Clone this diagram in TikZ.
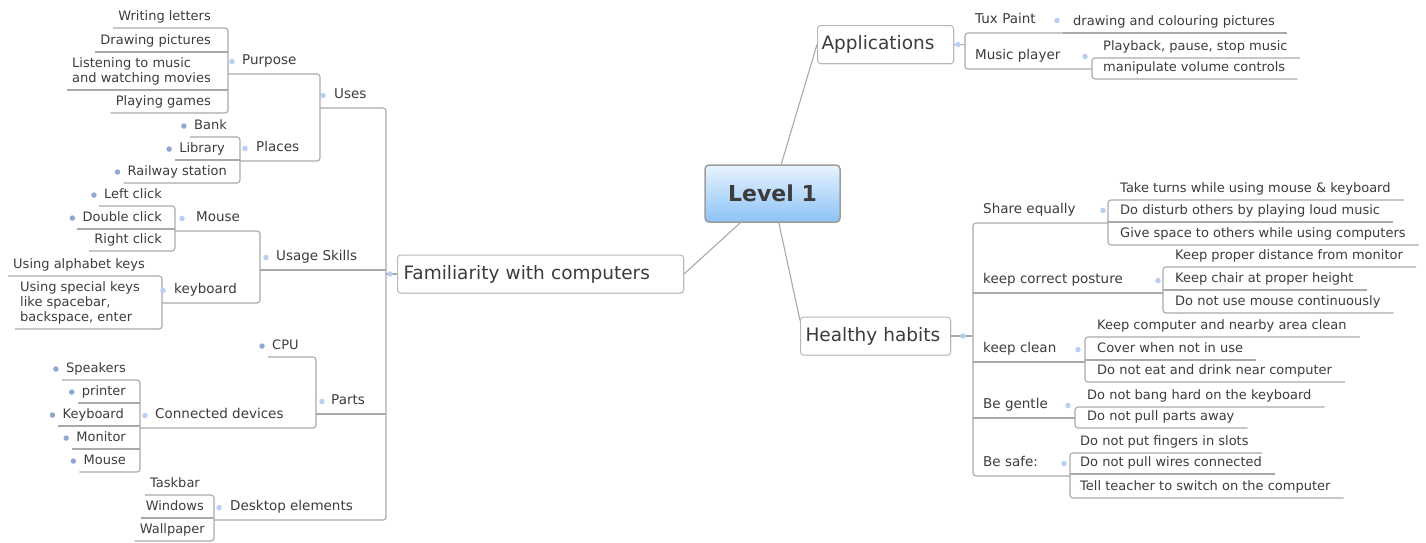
\documentclass[tikz,border=0pt]{standalone}
\usepackage{fontspec}
\setmainfont{DejaVu Sans}
\usetikzlibrary{shadows}

\definecolor{txt}{HTML}{3C3C3C}
\definecolor{linkc}{HTML}{A9A9A9}
\definecolor{boxc}{HTML}{B8B8B8}
\definecolor{dotc}{HTML}{BACFEF}
\definecolor{dotd}{HTML}{8FA8D2}
\definecolor{rtop}{HTML}{E8F3FE}
\definecolor{rbot}{HTML}{8CC3F6}
\definecolor{rbrd}{HTML}{9C9C9C}

\tikzset{
  link/.style={draw=linkc, line width=1.1pt, rounded corners=3pt},
  leaf/.style={font=\fontsize{13}{15}\selectfont, text=txt, inner xsep=0pt, inner ysep=4.5pt, text height=9.5pt, text depth=3pt},
  leafml/.style={font=\fontsize{13}{15}\selectfont, text=txt, inner xsep=0pt, inner ysep=4.5pt, align=left},
  sub/.style={font=\fontsize{13.5}{16}\selectfont, text=txt, inner xsep=0pt, inner ysep=5.5pt, text height=10pt, text depth=3.5pt},
  branch/.style={draw=boxc, fill=white, line width=1pt, rounded corners=3pt, font=\fontsize{18.5}{22}\selectfont, text=txt, align=left, inner ysep=9.25pt, text height=15pt, text depth=4.5pt, drop shadow={opacity=0.15, shadow xshift=1pt, shadow yshift=-1pt}},
  root/.style={draw=rbrd, line width=1.5pt, rounded corners=4pt, top color=rtop, bottom color=rbot, minimum width=135pt, minimum height=57pt, font=\bfseries\fontsize{22}{26}\selectfont, text=txt, drop shadow={opacity=0.2, shadow xshift=1pt, shadow yshift=-1pt}},
  knob/.style={circle, fill=dotc, inner sep=0pt, minimum size=5.5pt},
  knobd/.style={knob, fill=dotd},
}

\begin{document}
\begin{tikzpicture}[x=1pt, y=-1pt]
  \useasboundingbox (0,0) rectangle (1426,542);

  % Spine positions
  \coordinate (sF) at (386,0);
  \coordinate (sU) at (320,0);
  \coordinate (sPu) at (228,0);
  \coordinate (sPl) at (240,0);
  \coordinate (sUS) at (260,0);
  \coordinate (sM) at (175,0);
  \coordinate (sK) at (162,0);
  \coordinate (sPa) at (316,0);
  \coordinate (sCD) at (140,0);
  \coordinate (sD) at (214,0);
  \coordinate (sA) at (965,0);
  \coordinate (sT) at (1063,0);
  \coordinate (sMP) at (1092,0);
  \coordinate (sH) at (973,0);
  \coordinate (sSE) at (1108,0);
  \coordinate (sKP) at (1163,0);
  \coordinate (sKC) at (1085,0);
  \coordinate (sBG) at (1075,0);
  \coordinate (sBS) at (1070,0);

  % Central topic and main branches
  \node[root] (L1) at (772.5,193.5) {Level 1};
  \node[branch, anchor=west, inner xsep=6pt, text width=274pt] (fam) at (397,274) {Familiarity with computers};
  \node[branch, anchor=west, inner xsep=4pt, text width=128pt] (app) at (817,44.5) {Applications};
  \node[branch, anchor=west, inner xsep=5pt, text width=140pt] (hh) at (800,336) {Healthy habits};

  % Uses
  \node[leaf, anchor=south east] (wl) at (211,28) {Writing letters};
  \node[leaf, anchor=south east] (dp) at (211,52) {Drawing pictures};
  \node[leafml, anchor=south east] (lm) at (211,90) {Listening to music\\and watching movies};
  \node[leaf, anchor=south east] (pg) at (211,113) {Playing games};
  \node[sub, anchor=south west] (pur) at (242,74) {Purpose};
  \node[leaf, anchor=south east] (bank) at (227,137) {Bank};
  \node[leaf, anchor=south east] (lib) at (225,160) {Library};
  \node[leaf, anchor=south east] (rail) at (227,183) {Railway station};
  \node[sub, anchor=south west] (pla) at (256,161) {Places};
  \node[sub, anchor=south west] (uses) at (334,108) {Uses};

  % Usage Skills
  \node[leaf, anchor=south east] (lc) at (162,206) {Left click};
  \node[leaf, anchor=south east] (dc) at (162,229) {Double click};
  \node[leaf, anchor=south east] (rc) at (162,251) {Right click};
  \node[sub, anchor=south west] (mou) at (196,231) {Mouse};
  \node[leaf, anchor=south east] (ak) at (145,276) {Using alphabet keys};
  \node[leafml, anchor=south west] (sk) at (20,329) {Using special keys\\like spacebar,\\backspace, enter};
  \node[sub, anchor=south west] (kb) at (174,303) {keyboard};
  \node[sub, anchor=south west] (us) at (276,270) {Usage Skills};

  % Parts
  \node[leaf, anchor=south west] (cpu) at (272,357) {CPU};
  \node[leaf, anchor=south east] (spk) at (126,380) {Speakers};
  \node[leaf, anchor=south east] (pri) at (126,403) {printer};
  \node[leaf, anchor=south east] (kbd) at (124,426) {Keyboard};
  \node[leaf, anchor=south east] (mon) at (126,449) {Monitor};
  \node[leaf, anchor=south east] (mse) at (126,472) {Mouse};
  \node[sub, anchor=south west] (cd) at (155,428) {Connected devices};
  \node[sub, anchor=south west] (parts) at (331,414) {Parts};

  % Desktop elements
  \node[leaf, anchor=south east] (tb) at (200,495) {Taskbar};
  \node[leaf, anchor=south east] (win) at (204,518) {Windows};
  \node[leaf, anchor=south east] (wp) at (205,541) {Wallpaper};
  \node[sub, anchor=south west] (de) at (230,520) {Desktop elements};

  % Applications
  \node[sub, anchor=south west] (tux) at (975,33) {Tux Paint};
  \node[leaf, anchor=south west] (dcp) at (1073,33) {drawing and colouring pictures};
  \node[sub, anchor=south west] (mp) at (975,69) {Music player};
  \node[leaf, anchor=south west] (pb) at (1103,58) {Playback, pause, stop music};
  \node[leaf, anchor=south west] (mv) at (1103,79) {manipulate volume controls};

  % Healthy habits
  \node[sub, anchor=south west] (se) at (983,223) {Share equally};
  \node[leaf, anchor=south west] (tt) at (1120,200) {Take turns while using mouse \& keyboard};
  \node[leaf, anchor=south west] (dd) at (1120,222) {Do disturb others by playing loud music};
  \node[leaf, anchor=south west] (gs) at (1120,245) {Give space to others while using computers};
  \node[sub, anchor=south west] (kp) at (983,293) {keep correct posture};
  \node[leaf, anchor=south west] (kd) at (1175,267) {Keep proper distance from monitor};
  \node[leaf, anchor=south west] (kc) at (1175,290) {Keep chair at proper height};
  \node[leaf, anchor=south west] (nm) at (1175,313) {Do not use mouse continuously};
  \node[sub, anchor=south west] (kcl) at (983,362) {keep clean};
  \node[leaf, anchor=south west] (kca) at (1097,337) {Keep computer and nearby area clean};
  \node[leaf, anchor=south west] (cov) at (1097,360) {Cover when not in use};
  \node[leaf, anchor=south west] (ned) at (1097,382) {Do not eat and drink near computer};
  \node[sub, anchor=south west] (bg) at (983,418) {Be gentle};
  \node[leaf, anchor=south west] (nb) at (1087,407) {Do not bang hard on the keyboard};
  \node[leaf, anchor=south west] (np) at (1087,428) {Do not pull parts away};
  \node[sub, anchor=south west] (bs) at (983,476) {Be safe:};
  \node[leaf, anchor=south west] (nf) at (1080,453) {Do not put fingers in slots};
  \node[leaf, anchor=south west] (nw) at (1080,474) {Do not pull wires connected};
  \node[leaf, anchor=south west] (tlt) at (1080,498) {Tell teacher to switch on the computer};

  % Links from the central topic
  \draw[link] (L1) -- (fam.east);
  \draw[link] (L1) -- (app.west);
  \draw[link] (L1) -- ([yshift=-4pt]hh.north west);

  % Familiarity with computers
  \draw[link] (sF |- fam.west) -- (fam.west);
  \draw[link] (sU |- uses.south) -- (sF |- uses.south) -- (sF |- de.south) -- (sD |- de.south);
  \draw[link] (sUS |- us.south) -- (sF |- us.south);
  \draw[link] (sPa |- parts.south) -- (sF |- parts.south);
  \draw[link] (sPu |- pur.south) -- (sU |- pur.south) -- (sU |- pla.south) -- (sPl |- pla.south);
  \draw[link] ([xshift=-5pt]wl.south west) -- (sPu |- wl.south) -- (sPu |- pg.south) -- ([xshift=-5pt]pg.south west);
  \draw[link] ([xshift=-5pt]dp.south west) -- (sPu |- dp.south);
  \draw[link] ([xshift=-5pt]lm.south west) -- (sPu |- lm.south);
  \draw[link] ([xshift=-4pt]bank.south west) -- (sPl |- bank.south) -- (sPl |- rail.south) -- ([xshift=-4pt]rail.south west);
  \draw[link] ([xshift=-4pt]lib.south west) -- (sPl |- lib.south);
  \draw[link] (sM |- mou.south) -- (sUS |- mou.south) -- (sUS |- kb.south) -- (sK |- kb.south);
  \draw[link] ([xshift=-5pt]lc.south west) -- (sM |- lc.south) -- (sM |- rc.south) -- ([xshift=-5pt]rc.south west);
  \draw[link] ([xshift=-5pt]dc.south west) -- (sM |- dc.south);
  \draw[link] ([xshift=-5pt]ak.south west) -- (sK |- ak.south) -- (sK |- sk.south) -- ([xshift=-5pt]sk.south west);
  \draw[link] ([xshift=-4pt]cpu.south west) -- (sPa |- cpu.south) -- (sPa |- cd.south) -- (sCD |- cd.south);
  \draw[link] ([xshift=-4pt]spk.south west) -- (sCD |- spk.south) -- (sCD |- mse.south) -- ([xshift=-4pt]mse.south west);
  \draw[link] ([xshift=-4pt]pri.south west) -- (sCD |- pri.south);
  \draw[link] ([xshift=-4pt]kbd.south west) -- (sCD |- kbd.south);
  \draw[link] ([xshift=-4pt]mon.south west) -- (sCD |- mon.south);
  \draw[link] ([xshift=-5pt]tb.south west) -- (sD |- tb.south) -- (sD |- wp.south) -- ([xshift=-5pt]wp.south west);
  \draw[link] ([xshift=-5pt]win.south west) -- (sD |- win.south);

  % Applications
  \draw[link] (app.east) -- (sA |- app.east);
  \draw[link] (sT |- tux.south) -- (sA |- tux.south) -- (sA |- mp.south) -- (sMP |- mp.south);
  \draw[link] (sT |- dcp.south) -- ([xshift=12pt]dcp.south east);
  \draw[link] ([xshift=12pt]pb.south east) -- (sMP |- pb.south) -- (sMP |- mv.south) -- ([xshift=12pt]mv.south east);

  % Healthy habits
  \draw[link] (hh.east) -- (sH |- hh.east);
  \draw[link] (sSE |- se.south) -- (sH |- se.south) -- (sH |- bs.south) -- (sBS |- bs.south);
  \draw[link] (sH |- kp.south) -- (sKP |- kp.south);
  \draw[link] (sH |- kcl.south) -- (sKC |- kcl.south);
  \draw[link] (sH |- bg.south) -- (sBG |- bg.south);
  \draw[link] ([xshift=13pt]tt.south east) -- (sSE |- tt.south) -- (sSE |- gs.south) -- ([xshift=13pt]gs.south east);
  \draw[link] (sSE |- dd.south) -- ([xshift=13pt]dd.south east);
  \draw[link] ([xshift=13pt]kd.south east) -- (sKP |- kd.south) -- (sKP |- nm.south) -- ([xshift=13pt]nm.south east);
  \draw[link] (sKP |- kc.south) -- ([xshift=13pt]kc.south east);
  \draw[link] ([xshift=13pt]kca.south east) -- (sKC |- kca.south) -- (sKC |- ned.south) -- ([xshift=13pt]ned.south east);
  \draw[link] (sKC |- cov.south) -- ([xshift=13pt]cov.south east);
  \draw[link] ([xshift=13pt]nb.south east) -- (sBG |- nb.south) -- (sBG |- np.south) -- ([xshift=13pt]np.south east);
  \draw[link] ([xshift=13pt]nf.south east) -- (sBS |- nf.south) -- (sBS |- tlt.south) -- ([xshift=13pt]tlt.south east);
  \draw[link] (sBS |- nw.south) -- ([xshift=13pt]nw.south east);

  % Collapse knobs
  \node[knob] at ([xshift=4pt]sF |- fam.west) {};
  \node[knob] at ([xshift=-10pt]pur.west) {};
  \node[knob] at ([xshift=-11pt]uses.west) {};
  \node[knob] at ([xshift=-11pt]pla.west) {};
  \node[knob] at ([xshift=-14pt]mou.west) {};
  \node[knob] at ([xshift=-10pt]us.west) {};
  \node[knob] at ([xshift=-11pt]kb.west) {};
  \node[knob] at ([xshift=-9pt]parts.west) {};
  \node[knob] at ([xshift=-10pt]cd.west) {};
  \node[knob] at ([xshift=-11pt]de.west) {};
  \node[knobd] at ([xshift=-10pt]bank.west) {};
  \node[knobd] at ([xshift=-10pt]lib.west) {};
  \node[knobd] at ([xshift=-10pt]rail.west) {};
  \node[knobd] at ([xshift=-10pt]lc.west) {};
  \node[knobd] at ([xshift=-10pt]dc.west) {};
  \node[knobd] at ([xshift=-10pt]cpu.west) {};
  \node[knobd] at ([xshift=-10pt]spk.west) {};
  \node[knobd] at ([xshift=-10pt]pri.west) {};
  \node[knobd] at ([xshift=-10pt]kbd.west) {};
  \node[knobd] at ([xshift=-10pt]mon.west) {};
  \node[knobd] at ([xshift=-10pt]mse.west) {};
  \node[knob] at ([xshift=-7pt]sA |- app.east) {};
  \node[knob] at ([xshift=-6pt]sT |- tux.west) {};
  \node[knob] at ([xshift=-7pt]sMP |- mp.west) {};
  \node[knob] at ([xshift=-10pt]sH |- hh.east) {};
  \node[knob] at ([xshift=-5pt]sSE |- se.west) {};
  \node[knob] at ([xshift=-5pt]sKP |- kp.west) {};
  \node[knob] at ([xshift=-7pt]sKC |- kcl.west) {};
  \node[knob] at ([xshift=-7pt]sBG |- bg.west) {};
  \node[knob] at ([xshift=-6pt]sBS |- bs.west) {};
\end{tikzpicture}
\end{document}
